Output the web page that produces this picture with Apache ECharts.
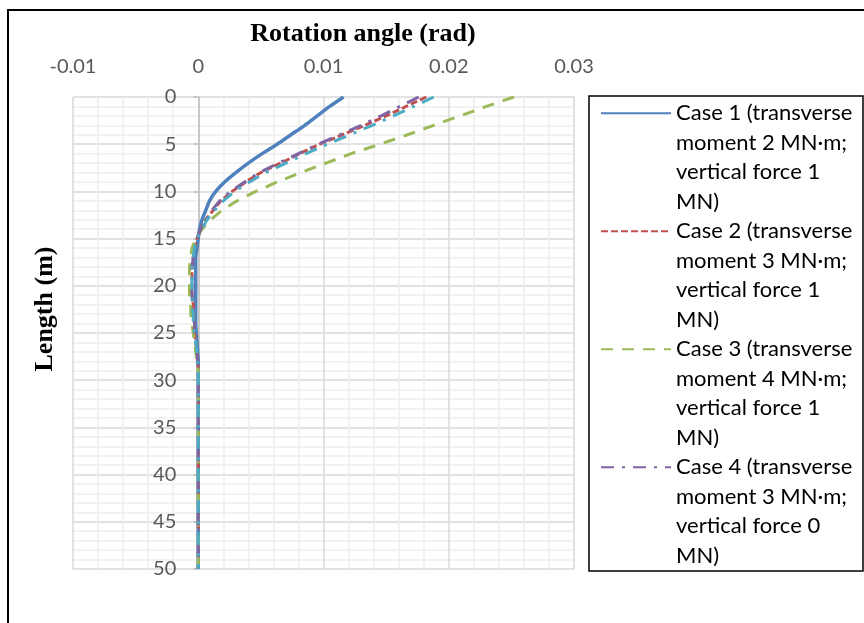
<!DOCTYPE html>
<html>
<head>
<meta charset="utf-8">
<style>
  html, body { margin: 0; padding: 0; background: #ffffff; }
  #chart { width: 864px; height: 623px; }
</style>
<script src="https://cdn.jsdelivr.net/npm/echarts@6/dist/echarts.min.js"></script>
</head>
<body>
<div id="chart"></div>
<script>
// Depth along the pile (m)
const depth = [0, 1, 2, 3, 4, 5, 6, 7, 8, 9, 10, 11, 12, 13, 14, 15, 16, 17, 18, 19, 20,
  21, 22, 23, 24, 25, 26, 27, 28, 29, 30, 35, 40, 45, 50];

// Rotation angle (rad) for each load case
const case1 = [0.0116, 0.0105, 0.0095, 0.0085, 0.0074, 0.0063, 0.0051, 0.0040, 0.0030, 0.0021,
  0.0014, 0.0009, 0.0006, 0.0003, 0.0001, 0.0000, -0.0001, -0.0002, -0.0002, -0.0002, -0.0002,
  -0.0002, -0.0002, -0.0002, -0.0002, -0.00015, -0.0001, -0.00005, 0, 0, 0, 0, 0, 0, 0];
const case2 = [0.0182, 0.0166, 0.0150, 0.0133, 0.0115, 0.0097, 0.0081, 0.0066, 0.0050, 0.0038,
  0.0027, 0.0018, 0.0012, 0.0006, 0.0002, -0.0001, -0.0003, -0.0004, -0.0005, -0.0005, -0.0005,
  -0.0005, -0.0004, -0.0004, -0.0003, -0.0003, -0.0002, -0.0001, -0.00005, 0, 0, 0, 0, 0, 0];
const case3 = [0.0252, 0.0230, 0.0209, 0.0188, 0.0167, 0.0145, 0.0122, 0.0102, 0.0082, 0.0063,
  0.0046, 0.0031, 0.0019, 0.0010, 0.0003, -0.0002, -0.0005, -0.0006, -0.0007, -0.0007, -0.0007,
  -0.0007, -0.0006, -0.0006, -0.0005, -0.0004, -0.0003, -0.0002, -0.0001, 0, 0, 0, 0, 0, 0];
const case4 = [0.0176, 0.0161, 0.0146, 0.0130, 0.0113, 0.0096, 0.0080, 0.0064, 0.0049, 0.0037,
  0.0026, 0.0017, 0.0011, 0.0006, 0.0002, -0.0001, -0.0003, -0.0004, -0.0005, -0.0005, -0.0005,
  -0.0005, -0.0004, -0.0004, -0.0003, -0.0003, -0.0002, -0.0001, -0.00005, 0, 0, 0, 0, 0, 0];
const case5 = [0.0188, 0.0172, 0.0156, 0.0139, 0.0121, 0.0103, 0.0086, 0.0070, 0.0054, 0.0041,
  0.0029, 0.0020, 0.0013, 0.0007, 0.0003, -0.0001, -0.0003, -0.0004, -0.0005, -0.0005, -0.0005,
  -0.0005, -0.0005, -0.0004, -0.0004, -0.0003, -0.0002, -0.0001, -0.00005, 0, 0, 0, 0, 0, 0];

const caseNames = [
  'Case 1 (transverse\nmoment 2 MN\u00b7m;\nvertical force 1\nMN)',
  'Case 2 (transverse\nmoment 3 MN\u00b7m;\nvertical force 1\nMN)',
  'Case 3 (transverse\nmoment 4 MN\u00b7m;\nvertical force 1\nMN)',
  'Case 4 (transverse\nmoment 3 MN\u00b7m;\nvertical force 0\nMN)',
  'Case 5'
];
const caseValues = [case1, case2, case3, case4, case5];
const caseColors = ['#4F81BD', '#C0504D', '#9BBB59', '#8064A2', '#4BACC6'];
const caseDashes = ['solid', [7, 3], [12, 9], [13, 8, 3, 8], [13, 8, 3, 8]];
const caseWidths = [3.5, 3, 3, 3, 3];

const xMin = -0.01;
const xMax = 0.03;

const tickFont = 'Lato, "Open Sans", sans-serif';
const serif = '"Liberation Serif", "DejaVu Serif", serif';

const gridLeft = 73;
const gridRight = 290;
const plotWidth = 864 - gridLeft - gridRight;
// the depth axis sits on the zero line of the rotation axis
const depthAxisShift = plotWidth * (0 - xMin) / (xMax - xMin);

const chart = echarts.init(document.getElementById('chart'), null, { renderer: 'canvas' });

chart.setOption({
  backgroundColor: '#ffffff',
  animation: false,
  title: {
    text: 'Rotation angle (rad)',
    left: 358,
    top: 16,
    textAlign: 'center',
    textStyle: { fontFamily: serif, fontWeight: 'bold', fontSize: 26, color: '#000000' }
  },
  grid: { left: gridLeft, right: gridRight, top: 97, bottom: 54, containLabel: false, outerBoundsMode: 'none' },
  legend: {
    data: caseNames.slice(0, 4),
    orient: 'vertical',
    left: 600,
    top: 10,
    height: 900,
    padding: 0,
    itemGap: -88.5,
    itemWidth: 70,
    itemHeight: 14,
    selectedMode: false,
    itemStyle: { opacity: 0 },
    // three leading blank lines put the first text line level with the sample line
    formatter: (name) => '\n\n\n' + name,
    textStyle: {
      fontFamily: tickFont,
      fontSize: 22,
      color: '#000000',
      lineHeight: 29.5
    }
  },
  xAxis: {
    type: 'value',
    position: 'top',
    min: xMin,
    max: xMax,
    interval: 0.01,
    axisLine: { show: false },
    axisTick: { show: false },
    axisLabel: { margin: 20, fontFamily: tickFont, fontSize: 20, color: '#595959' },
    splitLine: { show: true, lineStyle: { color: '#d9d9d9', width: 1.5 } },
    minorTick: { show: false, splitNumber: 5 },
    minorSplitLine: { show: true, lineStyle: { color: '#eeeeee', width: 1.5 } }
  },
  yAxis: {
    type: 'value',
    inverse: true,
    position: 'left',
    offset: -depthAxisShift,
    min: 0,
    max: 50,
    interval: 5,
    axisLine: { show: true, onZero: false, lineStyle: { color: '#bfbfbf', width: 1.5 } },
    axisTick: { show: true, length: 5, lineStyle: { color: '#bfbfbf', width: 1.5 } },
    axisLabel: { margin: 22, fontFamily: tickFont, fontSize: 20, color: '#595959' },
    splitLine: { show: true, lineStyle: { color: '#d9d9d9', width: 1.5 } },
    minorTick: { show: false, splitNumber: 5 },
    minorSplitLine: { show: true, lineStyle: { color: '#eeeeee', width: 1.5 } }
  },
  series: caseValues.map((vals, k) => ({
    name: caseNames[k],
    type: 'line',
    symbol: 'none',
    smooth: k === 0 ? 0.3 : false,
    z: 2 + k,
    color: caseColors[k],
    lineStyle: { color: caseColors[k], width: caseWidths[k], type: caseDashes[k], cap: 'butt' },
    data: depth.map((d, i) => [vals[i], d])
  })),
  graphic: [
    {
      type: 'rect',
      z: -1,
      shape: { x: 8, y: 10, width: 900, height: 700 },
      style: { fill: 'none', stroke: '#000000', lineWidth: 2 }
    },
    {
      type: 'rect',
      z: 1,
      shape: { x: 589, y: 96, width: 274, height: 475 },
      style: { fill: 'none', stroke: '#000000', lineWidth: 1.5 }
    },
    {
      // vertical axis title, read bottom to top
      type: 'text',
      x: 45,
      y: 309,
      rotation: Math.PI / 2,
      style: {
        text: 'Length (m)',
        align: 'center',
        verticalAlign: 'middle',
        fontFamily: serif,
        fontWeight: 'bold',
        fontSize: 26,
        fill: '#000000'
      }
    }
  ]
});
</script>
</body>
</html>
